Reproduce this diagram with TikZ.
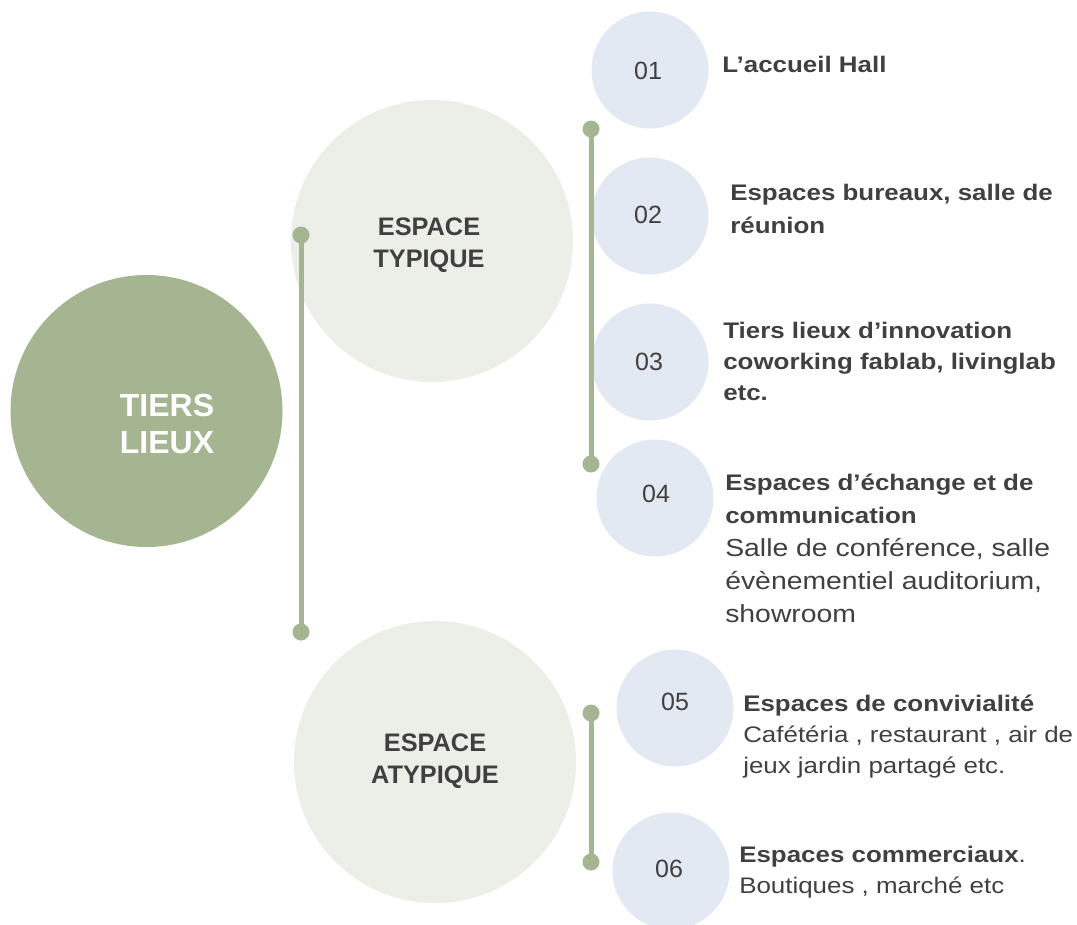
\documentclass[tikz,border=0pt]{standalone}
\usepackage{fontspec}
\setmainfont{Liberation Sans}
\newfontfamily\lblfont[FakeStretch=1.15]{Liberation Sans}
\definecolor{sage}{HTML}{A5B592}
\definecolor{pale}{HTML}{ECEEE8}
\definecolor{mist}{HTML}{E3E9F2}
\definecolor{ink}{HTML}{404040}
\newcommand\itemtext[1]{\begin{tabular}[t]{@{}l@{}}#1\end{tabular}}
\newcommand\rgbig[1]{{\fontsize{18.5}{20}\selectfont #1}}
\newcommand\rgsm[1]{{\fontsize{16.9}{20}\selectfont #1}}
\begin{document}
\begin{tikzpicture}[x=0.75pt,y=-0.75pt,
  hub/.style={circle, fill=sage, inner sep=0pt, minimum size=204pt},
  zone/.style={circle, fill=pale, inner sep=0pt, minimum size=211.5pt},
  badge/.style={circle, fill=mist, inner sep=0pt, minimum size=87.75pt},
  num/.style={inner sep=0pt, text=ink, font=\fontsize{18.75}{22}\selectfont},
  title/.style={inner sep=0pt, align=center, text=ink, font=\bfseries\fontsize{19}{24}\selectfont},
  dot/.style={circle, fill=sage, inner sep=0pt, minimum size=12.75pt},
  bar/.style={draw=sage, line width=3.75pt},
  lbl/.style={anchor=base west, inner sep=0pt, text=ink, font=\lblfont\fontsize{16.9}{#1}\selectfont}]
\useasboundingbox (0,0) rectangle (1077,924);
% main hub
\node[hub] (tl) at (146.5,411) {};
\node[inner sep=0pt, align=center, text=white, font=\bfseries\fontsize{24}{27.5}\selectfont] (tlt) at (167,424) {TIERS\\LIEUX};
% zones
\node[zone] (zt) at (432,241) {};
\node[title] (ztt) at (429,245) {ESPACE\\TYPIQUE};
\node[zone] (za) at (435,762) {};
\node[title] (zat) at (435,761) {ESPACE\\ATYPIQUE};
% badges
\node[badge] (b1) at (650,70) {};
\node[badge] (b2) at (650,216) {};
\node[badge] (b3) at (650,362) {};
\node[badge] (b4) at (655,498) {};
\node[badge] (b5) at (675,708) {};
\node[badge] (b6) at (671,871) {};
\node[num] (n1) at (648,71) {01};
\node[num] (n2) at (648,215) {02};
\node[num] (n3) at (649,362) {03};
\node[num] (n4) at (656,494) {04};
\node[num] (n5) at (675,702) {05};
\node[num] (n6) at (669,869) {06};
% labels
\node[lbl=24] (t1) at (722,73) {\itemtext{\textbf{L’accueil Hall}}};
\node[lbl=24.75] (t2) at (730,200) {\itemtext{\textbf{Espaces bureaux, salle de}\\\textbf{réunion}}};
\node[lbl=23.6] (t3) at (723,338) {\itemtext{\textbf{Tiers lieux d’innovation}\\\textbf{coworking fablab, livinglab}\\\textbf{etc.}}};
\node[lbl=24.75] (t4) at (725,490) {\itemtext{\textbf{Espaces d’échange et de}\\\textbf{communication}\\\rgbig{Salle de conférence, salle}\\\rgbig{évènementiel auditorium,}\\\rgbig{showroom}}};
\node[lbl=23.25] (t5) at (743,711) {\itemtext{\textbf{Espaces de convivialité}\\\rgsm{Cafétéria , restaurant , air de}\\\rgsm{jeux jardin partagé etc.}}};
\node[lbl=23.25] (t6) at (739,862) {\itemtext{\textbf{Espaces commerciaux}\rgsm{.}\\\rgsm{Boutiques , marché etc}}};
% bars with end dots
\node[dot] (d1) at (301,235) {};
\node[dot] (d2) at (301,632) {};
\node[dot] (d3) at (591,129) {};
\node[dot] (d4) at (591,464) {};
\node[dot] (d5) at (591,713) {};
\node[dot] (d6) at (591,862) {};
\draw[bar] (d1.center) -- (d2.center);
\draw[bar] (d3.center) -- (d4.center);
\draw[bar] (d5.center) -- (d6.center);
\end{tikzpicture}
\end{document}
